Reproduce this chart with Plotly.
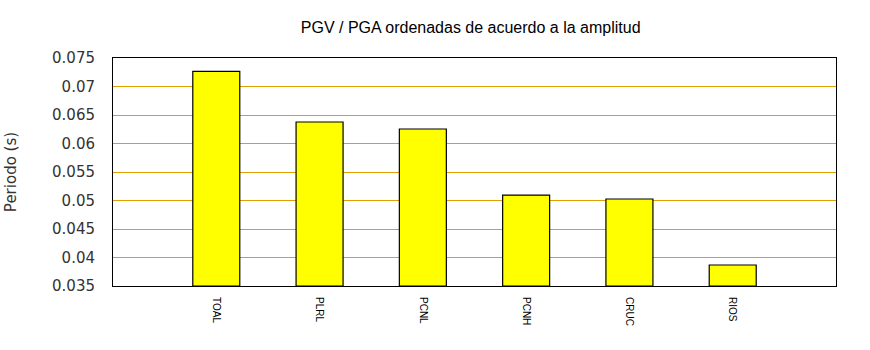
import plotly.graph_objects as go

stations = ["TOAL", "PLRL", "PCNL", "PCNH", "CRUC", "RIOS"]
periods = [0.07265, 0.06377, 0.06254, 0.05096, 0.05026, 0.03868]
positions = [1, 2, 3, 4, 5, 6]
y_floor = 0.035
y_ticks = [0.035, 0.04, 0.045, 0.05, 0.055, 0.06, 0.065, 0.07, 0.075]
y_tick_text = ["0.035", "0.04", "0.045", "0.05", "0.055", "0.06", "0.065", "0.07", "0.075"]

# bars rise from the axis floor up to each period value
fig = go.Figure(
    go.Bar(
        x=positions,
        y=[p - y_floor for p in periods],
        base=y_floor,
        width=0.455,
        marker=dict(color="#ffff00", line=dict(color="black", width=1.2)),
        hovertext=stations,
    )
)

fig.update_layout(
    width=870,
    height=350,
    margin=dict(l=113, r=34, t=58, b=64),
    paper_bgcolor="white",
    plot_bgcolor="white",
    showlegend=False,
    title=dict(
        text="PGV / PGA ordenadas de acuerdo a la amplitud",
        x=0.541,
        xanchor="center",
        y=0.923,
        yanchor="middle",
        font=dict(family="Liberation Sans, Arial", size=16, color="black"),
    ),
)

fig.update_xaxes(
    range=[0, 7],
    tickvals=positions,
    ticktext=stations,
    tickangle=90,
    tickfont=dict(family="Liberation Sans, Arial", size=10, color="black"),
    ticklabelstandoff=8,
    showgrid=False,
    zeroline=False,
    showline=True,
    linecolor="black",
    linewidth=1,
    mirror=True,
    ticks="",
)

fig.update_yaxes(
    range=[y_floor, 0.075],
    tickvals=y_ticks,
    ticktext=y_tick_text,
    tickfont=dict(family="DejaVu Sans", size=15, color="#333333"),
    ticklabelstandoff=14,
    showgrid=True,
    gridcolor="#e0a000",
    gridwidth=1,
    zeroline=False,
    showline=True,
    linecolor="black",
    linewidth=1,
    mirror=True,
    ticks="",
    title=dict(
        text="Periodo (s)",
        font=dict(family="DejaVu Sans", size=15, color="#333333"),
        standoff=31,
    ),
)

fig.write_html("out.html")
